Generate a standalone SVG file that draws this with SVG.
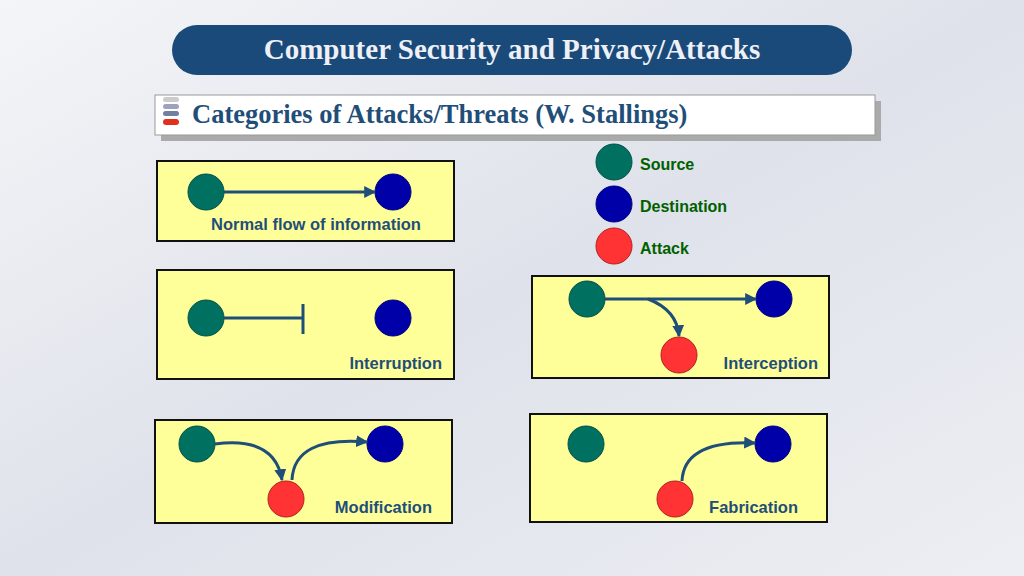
<svg xmlns="http://www.w3.org/2000/svg" width="1024" height="576" viewBox="0 0 1024 576">
<defs>
<linearGradient id="bg" x1="0" y1="0" x2="1" y2="1"><stop offset="0" stop-color="#f4f5f8"/><stop offset="0.5" stop-color="#dfe2ea"/><stop offset="1" stop-color="#eceef3"/></linearGradient>
<marker id="ah" viewBox="0 0 10 10" refX="9" refY="5" markerWidth="4" markerHeight="4" orient="auto"><path d="M0,0L10,5L0,10z" fill="#1f4e79"/></marker>
</defs>
<style>
.box{fill:#ffff99;stroke:#111;stroke-width:2}
.s{fill:#007060;stroke:#005048}
.d{fill:#0000a8;stroke:#000080}
.a{fill:#ff3333;stroke:#b02020}
.l{font-family:"Liberation Sans",Arial,sans-serif;font-weight:bold;font-size:16.5px;fill:#1f4e79}
.g{font-family:"Liberation Sans",Arial,sans-serif;font-weight:bold;font-size:16px;fill:#006000}
.c{fill:none;stroke:#1f4e79;stroke-width:3;marker-end:url(#ah)}
</style>
<rect width="1024" height="576" fill="url(#bg)"/>
<g id="title"><rect x="172" y="25" width="680" height="50" rx="25" fill="#1a4a7a"/>
<text x="512" y="59" text-anchor="middle" font-family="Liberation Serif,serif" font-weight="bold" font-size="29" fill="#eef0f6">Computer Security and Privacy/Attacks</text></g>
<g id="subtitle"><rect x="161" y="101" width="720" height="40" fill="#aaa"/><rect x="155" y="95" width="720" height="40" fill="#fff" stroke="#999"/>
<rect x="163" y="97" width="16" height="5" rx="2.5" fill="#ccc"/><rect x="163" y="104" width="16" height="5" rx="2.5" fill="#a0a0c0"/><rect x="163" y="111" width="16" height="5" rx="2.5" fill="#7080a0"/><rect x="163" y="119" width="16" height="6" rx="3" fill="#e03020"/>
<text x="192" y="123" font-family="Liberation Serif,serif" font-weight="bold" font-size="26.5" fill="#1f4e79">Categories of Attacks/Threats (W. Stallings)</text></g>
<g id="legend"><circle class="s" cx="614" cy="162" r="18"/><text class="g" x="640" y="170">Source</text>
<circle class="d" cx="614" cy="204" r="18"/><text class="g" x="640" y="212">Destination</text>
<circle class="a" cx="614" cy="246" r="18"/><text class="g" x="640" y="254">Attack</text></g>
<g id="normal"><rect class="box" x="157" y="161" width="297" height="80"/><circle class="s" cx="206" cy="192" r="18"/><circle class="d" cx="393" cy="192" r="18"/><text class="l" x="316" y="230" text-anchor="middle">Normal flow of information</text></g>
<g id="interruption"><rect class="box" x="157" y="270" width="297" height="109"/><circle class="s" cx="206" cy="318" r="18"/><circle class="d" cx="393" cy="318" r="18"/><text class="l" x="442" y="369" text-anchor="end">Interruption</text></g>
<g id="interception"><rect class="box" x="532" y="276" width="297" height="102"/><circle class="s" cx="587" cy="299" r="18"/><circle class="d" cx="774" cy="299" r="18"/><circle class="a" cx="679" cy="355" r="18"/><text class="l" x="818" y="369" text-anchor="end">Interception</text></g>
<g id="modification"><rect class="box" x="155" y="420" width="297" height="103"/><circle class="s" cx="197" cy="444" r="18"/><circle class="d" cx="385" cy="444" r="18"/><circle class="a" cx="286" cy="499" r="18"/><text class="l" x="432" y="513" text-anchor="end">Modification</text></g>
<g id="fabrication"><rect class="box" x="530" y="414" width="297" height="108"/><circle class="s" cx="586" cy="444" r="18"/><circle class="d" cx="773" cy="444" r="18"/><circle class="a" cx="675" cy="499" r="18"/><text class="l" x="798" y="513" text-anchor="end">Fabrication</text></g>
<g id="connectors">
<path class="c" d="M224,192H375"/>
<path d="M224,318H303" stroke="#1f4e79" stroke-width="3"/><path d="M303,304V334" stroke="#1f4e79" stroke-width="3"/>
<path class="c" d="M605,299H756"/>
<path class="c" d="M648,299Q677,310 679,336"/>
<path class="c" d="M215,444Q275,436 282,480"/>
<path class="c" d="M292,480Q294,436 367,442"/>
<path class="c" d="M682,481Q684,440 755,443"/>
</g>
</svg>
